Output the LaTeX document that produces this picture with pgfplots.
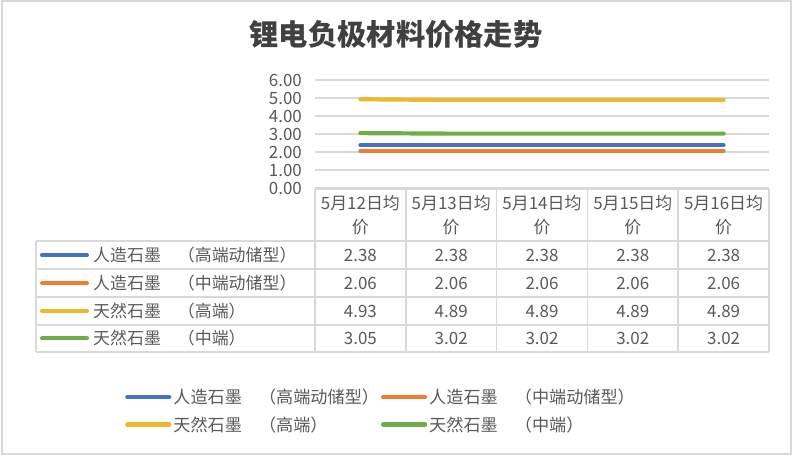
\documentclass[border=0pt]{standalone}
\usepackage{pgfplots}
\pgfplotsset{compat=1.18}
\usepackage{fontspec}
\setmainfont{Noto Sans CJK SC}

\definecolor{cblue}{HTML}{4472C4}
\definecolor{corange}{HTML}{ED7D31}
\definecolor{cgold}{HTML}{EDB92A}
\definecolor{cgreen}{HTML}{70AD47}
\definecolor{txt}{HTML}{595959}
\definecolor{gridc}{HTML}{D9D9D9}

\newcommand{\tfont}{\fontsize{17}{20}\selectfont}

\begin{document}
\begin{tikzpicture}
\useasboundingbox (0bp,0bp) rectangle (793bp,456bp);
\draw[gridc, line width=1.2bp] (2bp,2bp) rectangle (791bp,455bp);

% title
\node[text=black!75, font=\fontsize{29.4}{33}\selectfont\bfseries] at (396bp,422bp) {锂电负极材料价格走势};

\begin{axis}[
    at={(315bp,268bp)}, anchor=south west,
    scale only axis, width=454bp, height=108bp,
    xmin=0, xmax=5, ymin=0, ymax=6,
    xtick=\empty, ytick={0,1,...,6},
    axis line style={draw=none},
    tick style={draw=none},
    ymajorgrids, major grid style={gridc, line width=1.2bp},
    yticklabel style={
        /pgf/number format/.cd, fixed, fixed zerofill, precision=2, assume math mode=true,
        /tikz/.cd, font=\tfont, text=txt, anchor=east, inner sep=0pt, xshift=-13bp},
    legend columns=2,
    legend cell align=left,
    legend image code/.code={\draw[#1, line cap=round] (0bp,0bp) -- (42bp,0bp);},
    legend style={at={(-0.4185,-1.8426)}, anchor=north west, draw=none, fill=none, inner sep=0pt,
        font=\fontsize{17.2}{20}\selectfont, text=txt, row sep=7bp,
        nodes={inner sep=2bp},
        /tikz/every even column/.append style={column sep=0bp}},
    every axis plot/.append style={line width=4.2bp, line cap=round},
]
\addplot[cblue] coordinates {(0.5,2.38) (1.5,2.38) (2.5,2.38) (3.5,2.38) (4.5,2.38)};
\addplot[corange] coordinates {(0.5,2.06) (1.5,2.06) (2.5,2.06) (3.5,2.06) (4.5,2.06)};
\addplot[cgold] coordinates {(0.5,4.93) (1.5,4.89) (2.5,4.89) (3.5,4.89) (4.5,4.89)};
\addplot[cgreen] coordinates {(0.5,3.05) (1.5,3.02) (2.5,3.02) (3.5,3.02) (4.5,3.02)};
\legend{人造石墨　（高端动储型）, 人造石墨　（中端动储型）, 天然石墨　（高端）, 天然石墨　（中端）}
\end{axis}

% data table
\begin{scope}[x=1bp, y=1bp]
\begin{scope}[gridc, line width=1.5bp]
  \draw (315,267) -- (769,267);
  \foreach \y in {215,187,159,131,104} \draw (36,\y) -- (769,\y);
  \draw (36,215) -- (36,104);
  \foreach \i in {0,...,5} \draw ({315+90.8*\i},267) -- ({315+90.8*\i},104);
\end{scope}

\foreach \d [count=\i from 0] in {12,13,14,15,16}
  \node[text=txt, font=\tfont, align=center, inner sep=0pt]
    at ({315+90.8*(\i+0.5)},241) {5月\d 日均\\[4bp]价};

\foreach \c/\lab/\y in {cblue/人造石墨　（高端动储型）/201, corange/人造石墨　（中端动储型）/173,
                        cgold/天然石墨　（高端）/145, cgreen/天然石墨　（中端）/117.5} {
  \draw[\c, line width=4bp, line cap=round] (42,\y) -- (87,\y);
  \node[text=txt, font=\tfont, anchor=west, inner sep=0pt] at (93,\y) {\lab};
}

\foreach \v [count=\i from 0] in {2.38,2.38,2.38,2.38,2.38}
  \node[text=txt, font=\tfont] at ({315+90.8*(\i+0.5)},201) {\v};
\foreach \v [count=\i from 0] in {2.06,2.06,2.06,2.06,2.06}
  \node[text=txt, font=\tfont] at ({315+90.8*(\i+0.5)},173) {\v};
\foreach \v [count=\i from 0] in {4.93,4.89,4.89,4.89,4.89}
  \node[text=txt, font=\tfont] at ({315+90.8*(\i+0.5)},145) {\v};
\foreach \v [count=\i from 0] in {3.05,3.02,3.02,3.02,3.02}
  \node[text=txt, font=\tfont] at ({315+90.8*(\i+0.5)},117.5) {\v};
\end{scope}
\end{tikzpicture}
\end{document}
